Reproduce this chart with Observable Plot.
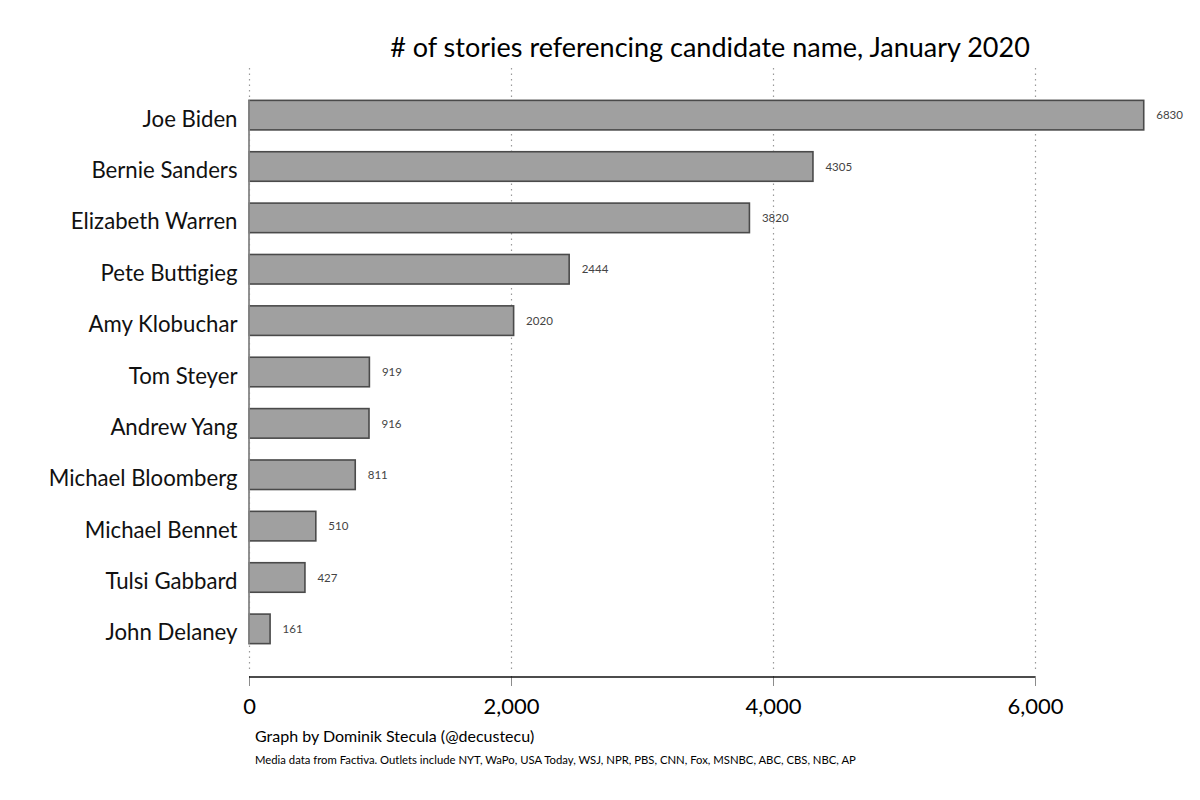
<!DOCTYPE html>
<html>
<head>
<meta charset="utf-8">
<script src="https://cdn.jsdelivr.net/npm/d3@7"></script>
<script src="https://cdn.jsdelivr.net/npm/@observablehq/plot@0.6"></script>
<style>
  html, body { margin: 0; padding: 0; background: #fff; }
  #wrap { position: relative; width: 1200px; height: 800px; font-family: Lato, sans-serif; }
  #title { position: absolute; left: 0; width: 1420px; top: 30px; text-align: center; font-size: 27px; color: #000; }
  #cap1 { position: absolute; left: 255px; top: 726px; font-size: 16px; color: #000; }
  #cap2 { position: absolute; left: 255px; top: 753px; font-size: 11.3px; color: #000; }
</style>
</head>
<body>
<div id="wrap">
  <div id="chart"></div>
  <div id="title"># of stories referencing candidate name, January 2020</div>
  <div id="cap1">Graph by Dominik Stecula (@decustecu)</div>
  <div id="cap2">Media data from Factiva. Outlets include NYT, WaPo, USA Today, WSJ, NPR, PBS, CNN, Fox, MSNBC, ABC, CBS, NBC, AP</div>
</div>
<script>
const candidates = ["Joe Biden", "Bernie Sanders", "Elizabeth Warren", "Pete Buttigieg", "Amy Klobuchar", "Tom Steyer", "Andrew Yang", "Michael Bloomberg", "Michael Bennet", "Tulsi Gabbard", "John Delaney"];
const stories = [6830, 4305, 3820, 2444, 2020, 919, 916, 811, 510, 427, 161];
const xTicks = [0, 2000, 4000, 6000];

const data = candidates.map((name, i) => ({name, value: stories[i]}));

const plot = Plot.plot({
  width: 1200,
  height: 800,
  marginLeft: 249,
  marginRight: 34,
  marginTop: 68,
  marginBottom: 124,
  style: {fontFamily: "Lato, sans-serif", background: "#fff"},
  x: {domain: [0, 7000], ticks: xTicks, tickFormat: d3.format(","), label: null},
  y: {domain: candidates, paddingInner: 0.425, paddingOuter: 0.63, round: false, label: null},
  marks: [
    Plot.gridX({ticks: xTicks, stroke: "#999", strokeOpacity: 1, strokeDasharray: "1.5,4", strokeWidth: 1.2, insetBottom: 6}),
    Plot.barX(data, {x: "value", y: "name", fill: "#a0a0a0", stroke: "#4a4a4a", strokeWidth: 1.6}),
    Plot.text(data, {x: "value", y: "name", text: d => String(d.value), textAnchor: "start", dx: 12, fontSize: 11.5, fill: "#444"}),
    Plot.axisY({tickSize: 0, tickPadding: 12, fontSize: 22.2, dy: 4, color: "#111", label: null}),
    Plot.axisX({ticks: xTicks, tickSize: 10, tickPadding: 12, fontSize: 22, stroke: "#8c8c8c", color: "#000", label: null, tickFormat: d3.format(",")})
  ]
});

d3.select(plot).selectAll("[aria-label='x-axis tick label']").attr("fill", "#000");
d3.select(plot).selectAll("[aria-label='y-axis tick label']").attr("fill", "#111");

// axis lines placed with the library's own scales
const xs = plot.scale("x");
const ys = plot.scale("y");
const svg = d3.select(plot);
const yFirst = ys.apply(candidates[0]);
const yLast = ys.apply(candidates[candidates.length - 1]) + ys.bandwidth;
svg.append("line")
  .attr("x1", xs.apply(0)).attr("x2", xs.apply(0))
  .attr("y1", yFirst).attr("y2", yLast)
  .attr("stroke", "#858585").attr("stroke-width", 1.8);
const yBottom = 800 - 124 + 1;
svg.append("line")
  .attr("x1", xs.apply(xTicks[0]))
  .attr("x2", xs.apply(xTicks[xTicks.length - 1]))
  .attr("y1", yBottom).attr("y2", yBottom)
  .attr("stroke", "#111").attr("stroke-width", 1.5);

document.getElementById("chart").appendChild(plot);
</script>
</body>
</html>
